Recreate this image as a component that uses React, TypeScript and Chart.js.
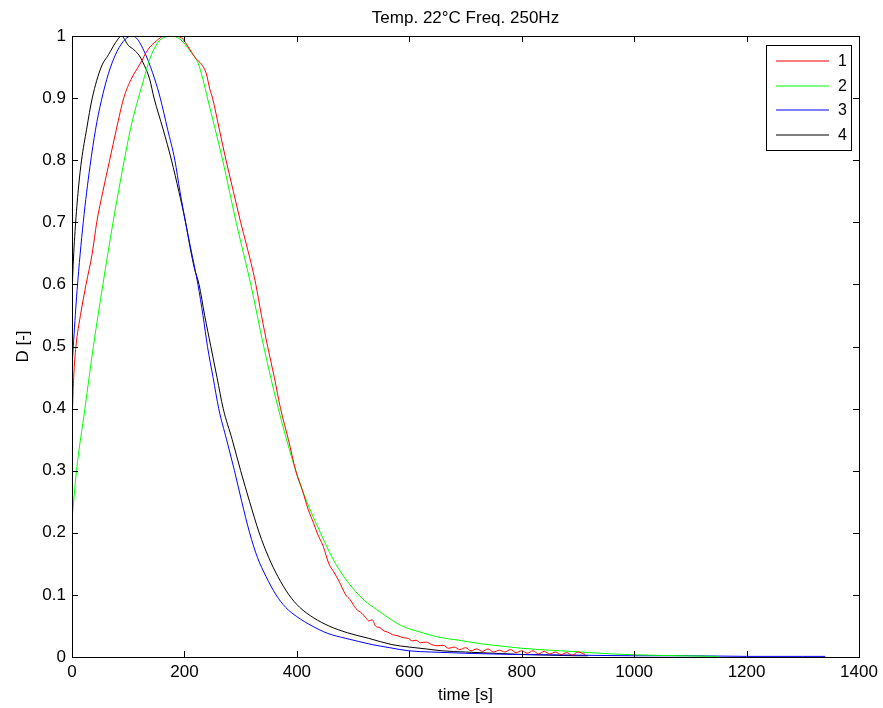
import React, { useEffect, useRef } from "react";
import { Chart, registerables } from "chart.js";

Chart.register(...registerables);

const TITLE = "Temp. 22°C Freq. 250Hz";
const X_LABEL = "time [s]";
const Y_LABEL = "D [-]";
const SERIES_NAMES = ["1", "2", "3", "4"];
const SERIES_COLORS = ["#ff0000", "#00ff00", "#0000ff", "#000000"];
const X_TICKS = [0, 200, 400, 600, 800, 1000, 1200, 1400];
const Y_TICKS = [0, 0.1, 0.2, 0.3, 0.4, 0.5, 0.6, 0.7, 0.8, 0.9, 1];

// Series 1 (red)
const t1 = [0, 1, 3, 7, 15, 25, 36, 44, 55, 67, 79, 92, 105, 121, 135, 150, 165, 180, 195, 209, 221, 230, 239, 245, 250, 262, 274, 287, 300, 310, 321, 327, 337, 348, 360, 371, 385, 398, 410, 420, 430, 436, 447, 457, 465, 475, 487, 495, 505, 516, 522, 528, 534, 540, 548, 555, 562, 570, 580, 590, 598, 605, 612, 620, 630, 640, 650, 660, 670, 680, 690, 700, 710, 720, 730, 740, 750, 760, 770, 780, 790, 800, 810, 820, 830, 840, 850, 860, 870, 880, 890, 900, 913];
const d1 = [0.36, 0.40, 0.45, 0.50, 0.55, 0.60, 0.65, 0.70, 0.75, 0.80, 0.85, 0.90, 0.93, 0.955, 0.978, 0.992, 1.0, 1.0, 0.997, 0.979, 0.963, 0.955, 0.939, 0.915, 0.90, 0.85, 0.80, 0.75, 0.70, 0.665, 0.625, 0.60, 0.55, 0.50, 0.45, 0.40, 0.35, 0.30, 0.268, 0.238, 0.215, 0.20, 0.178, 0.15, 0.138, 0.122, 0.10, 0.092, 0.078, 0.07, 0.064, 0.058, 0.060, 0.05, 0.047, 0.042, 0.040, 0.036, 0.034, 0.031, 0.030, 0.026, 0.027, 0.023, 0.024, 0.020, 0.018, 0.019, 0.014, 0.016, 0.012, 0.015, 0.010, 0.013, 0.009, 0.013, 0.008, 0.011, 0.008, 0.012, 0.007, 0.010, 0.006, 0.010, 0.005, 0.009, 0.005, 0.008, 0.004, 0.007, 0.003, 0.008, 0.004];

// Series 2 (green)
const t2 = [0, 8, 23, 38, 55, 73, 93, 104, 115, 126, 138, 153, 165, 174, 192, 210, 224, 233, 241, 268, 292, 318, 341, 367, 398, 416, 442, 469, 510, 552, 587, 620, 652, 688, 730, 770, 800, 850, 906, 960, 1024, 1080, 1150];
const d2 = [0.22, 0.30, 0.40, 0.50, 0.60, 0.70, 0.80, 0.85, 0.89, 0.925, 0.962, 0.99, 0.998, 1.0, 0.995, 0.976, 0.957, 0.93, 0.90, 0.80, 0.70, 0.60, 0.50, 0.40, 0.30, 0.254, 0.20, 0.15, 0.10, 0.07, 0.05, 0.04, 0.032, 0.027, 0.021, 0.017, 0.014, 0.011, 0.008, 0.005, 0.003, 0.002, 0.001];

// Series 3 (blue)
const t3 = [0, 3, 9, 20, 32, 42, 52, 65, 80, 95, 106, 113, 120, 132, 147, 157, 170, 183, 192, 202, 213, 224, 233, 241, 251, 261, 275, 289, 302, 316, 330, 345, 363, 380, 400, 427, 455, 487, 510, 534, 565, 599, 640, 700, 800, 900, 1000, 1100, 1200, 1300, 1340];
const d3 = [0.465, 0.51, 0.59, 0.70, 0.79, 0.85, 0.895, 0.94, 0.975, 0.995, 1.0, 0.998, 0.99, 0.968, 0.931, 0.90, 0.85, 0.80, 0.75, 0.70, 0.65, 0.60, 0.55, 0.50, 0.45, 0.40, 0.35, 0.30, 0.25, 0.20, 0.16, 0.13, 0.10, 0.08, 0.065, 0.05, 0.038, 0.03, 0.025, 0.02, 0.015, 0.01, 0.008, 0.006, 0.004, 0.003, 0.002, 0.002, 0.001, 0.001, 0.001];

// Series 4 (black)
const t4 = [0, 2, 6.5, 12, 17, 26, 36, 52, 65, 78, 88, 100, 110, 120, 129, 138, 146, 162, 177, 190, 202, 210, 218, 226, 236, 247, 258, 269, 285, 300, 316, 333, 350, 366, 386, 405, 430, 457, 490, 528, 569, 600, 630, 658, 700, 750, 800, 850, 900, 918];
const d4 = [0.58, 0.63, 0.70, 0.76, 0.80, 0.85, 0.90, 0.95, 0.97, 0.99, 1.0, 0.985, 0.978, 0.968, 0.952, 0.931, 0.90, 0.85, 0.80, 0.75, 0.70, 0.66, 0.625, 0.60, 0.55, 0.50, 0.45, 0.40, 0.35, 0.30, 0.25, 0.20, 0.16, 0.13, 0.10, 0.08, 0.063, 0.05, 0.039, 0.03, 0.02, 0.016, 0.013, 0.01, 0.008, 0.006, 0.004, 0.003, 0.002, 0.002];

const TIMES = [t1, t2, t3, t4];
const VALUES = [d1, d2, d3, d4];

const FONT = "'Liberation Sans', Arial, Helvetica, sans-serif";

const matlabPlugin = {
  id: "matlabDecor",
  afterDraw(chart: any) {
    const { ctx, chartArea } = chart;
    const { left, right, top, bottom } = chartArea;
    const xs = chart.scales.x;
    const ys = chart.scales.y;
    ctx.save();
    ctx.strokeStyle = "#000";
    ctx.lineWidth = 1;
    ctx.strokeRect(Math.round(left) + 0.5, Math.round(top) + 0.5, Math.round(right - left), Math.round(bottom - top));
    const tl = 6;
    ctx.beginPath();
    X_TICKS.forEach((v) => {
      const px = Math.round(xs.getPixelForValue(v)) + 0.5;
      ctx.moveTo(px, bottom);
      ctx.lineTo(px, bottom - tl);
      ctx.moveTo(px, top);
      ctx.lineTo(px, top + tl);
    });
    Y_TICKS.forEach((v) => {
      const py = Math.round(ys.getPixelForValue(v)) + 0.5;
      ctx.moveTo(left, py);
      ctx.lineTo(left + tl, py);
      ctx.moveTo(right, py);
      ctx.lineTo(right - tl, py);
    });
    ctx.stroke();

    ctx.fillStyle = "#000";
    ctx.font = `17px ${FONT}`;
    ctx.textAlign = "center";
    ctx.textBaseline = "alphabetic";
    const cx = (left + right) / 2;
    ctx.fillText(TITLE, cx, 23);
    ctx.fillText(X_LABEL, cx, 700);
    ctx.save();
    ctx.translate(28, (top + bottom) / 2);
    ctx.rotate(-Math.PI / 2);
    ctx.fillText(Y_LABEL, 0, 0);
    ctx.restore();

    // legend
    const lx = 766.5, ly = 45.5, lw = 85, lh = 105;
    ctx.fillStyle = "#fff";
    ctx.fillRect(lx, ly, lw, lh);
    ctx.strokeStyle = "#000";
    ctx.strokeRect(lx, ly, lw, lh);
    ctx.font = `16px ${FONT}`;
    ctx.textAlign = "left";
    ctx.textBaseline = "middle";
    SERIES_NAMES.forEach((name, i) => {
      const y = Math.round(61 + i * 24.7);
      ctx.strokeStyle = SERIES_COLORS[i];
      ctx.lineWidth = 1.2;
      ctx.beginPath();
      ctx.moveTo(776, y);
      ctx.lineTo(829, y);
      ctx.stroke();
      ctx.fillStyle = "#000";
      ctx.fillText(name, 838, y + 1);
    });
    ctx.restore();
  },
};

export default function App() {
  const ref = useRef<HTMLCanvasElement | null>(null);
  useEffect(() => {
    if (!ref.current) return;
    const datasets = SERIES_NAMES.map((name, i) => ({
      label: name,
      data: TIMES[i].map((t, k) => ({ x: t, y: VALUES[i][k] })),
      showLine: true,
      borderColor: SERIES_COLORS[i],
      backgroundColor: SERIES_COLORS[i],
      borderWidth: 1,
      pointRadius: 0,
      cubicInterpolationMode: "monotone" as const,
      fill: false,
    }));
    const chart = new Chart(ref.current, {
      type: "scatter",
      data: { datasets },
      plugins: [matlabPlugin],
      options: {
        responsive: false,
        animation: false,
        layout: { padding: { top: 36, right: 24, left: 0, bottom: 0 } },
        plugins: {
          legend: { display: false },
          title: { display: false },
          tooltip: { enabled: false },
        },
        scales: {
          x: {
            type: "linear",
            min: 0,
            max: 1400,
            afterBuildTicks: (s: any) => {
              s.ticks = X_TICKS.map((v) => ({ value: v }));
            },
            afterFit: (s: any) => {
              s.height = 51;
            },
            ticks: {
              font: { family: FONT, size: 17 },
              color: "#000",
              padding: 5,
              maxRotation: 0,
              autoSkip: false,
              callback: (v: any) => String(v),
            },
            grid: { display: false, drawTicks: false },
            border: { display: false },
          },
          y: {
            type: "linear",
            min: 0,
            max: 1,
            afterBuildTicks: (s: any) => {
              s.ticks = Y_TICKS.map((v) => ({ value: v }));
            },
            afterFit: (s: any) => {
              s.width = 72;
            },
            ticks: {
              font: { family: FONT, size: 17 },
              color: "#000",
              padding: 6,
              autoSkip: false,
              callback: (v: any) => String(Math.round(Number(v) * 10) / 10),
            },
            grid: { display: false, drawTicks: false },
            border: { display: false },
          },
        },
      },
    });
    return () => chart.destroy();
  }, []);
  return (
    <div style={{ position: "fixed", left: 0, top: 0, width: 883, height: 708, background: "#fff" }}>
      <canvas ref={ref} width={883} height={708} style={{ display: "block" }} />
    </div>
  );
}
